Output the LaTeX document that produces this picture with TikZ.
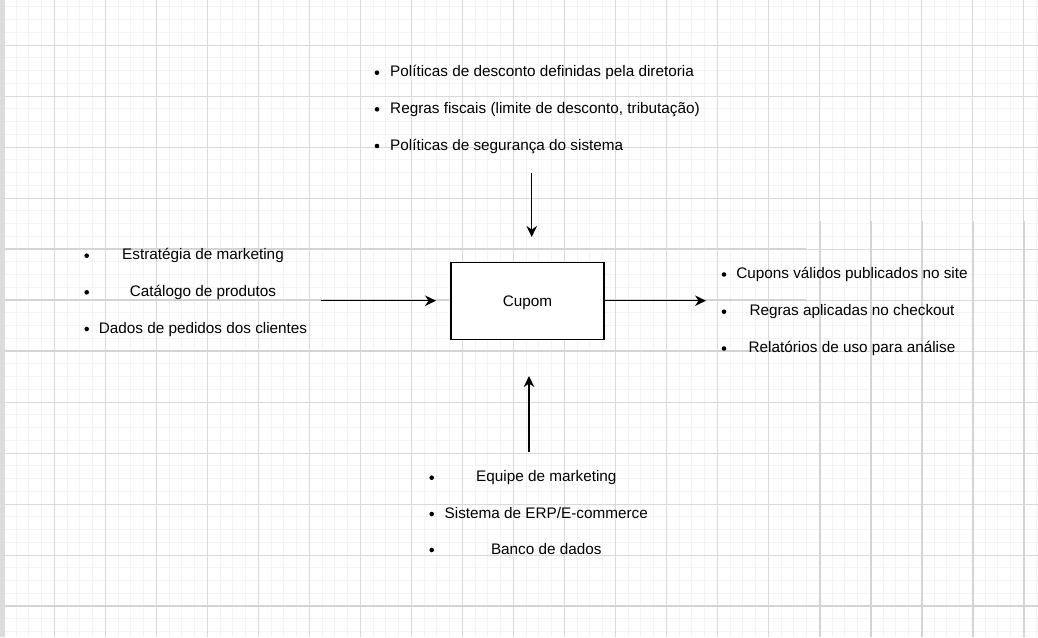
\documentclass[tikz,border=0pt]{standalone}
\usepackage{fontspec}
\setmainfont{Liberation Sans}
\usetikzlibrary{arrows.meta}
\definecolor{minorc}{HTML}{F3F3F3}
\definecolor{majorc}{HTML}{D9D9D9}
\definecolor{thickc}{HTML}{D4D4D4}
\definecolor{stripc}{HTML}{DCDCDC}
\begin{document}
\begin{tikzpicture}[x=1pt,y=-1pt,
  font=\fontsize{15.3}{18}\selectfont,
  bul/.style={circle,fill=black,inner sep=0pt,minimum size=4.6pt},
  txt/.style={inner sep=0pt,text=black},
  boxnode/.style={draw=black,line width=1.2pt,fill=white,minimum width=153pt,minimum height=76.5pt,inner sep=0pt},
  conn/.style={line width=1.3pt,-{Stealth[length=11pt,width=10.5pt,inset=3.5pt]}},
  minorl/.style={draw=minorc,line width=1pt},
  majorl/.style={draw=majorc,line width=1pt},
  thickl/.style={draw=thickc,line width=2pt}]
\fill[white] (0,0) rectangle (1038,637);
\useasboundingbox (0,0) rectangle (1038,637);
% minor grid
\foreach \i in {0,...,81} \draw[minorl] ({3.3+12.75*\i},0) -- ({3.3+12.75*\i},637);
\foreach \i in {0,...,49} \draw[minorl] (5,{6.75+12.75*\i}) -- (1038,{6.75+12.75*\i});
% major grid
\foreach \i in {1,...,20} \draw[majorl] ({3.3+51*\i},0) -- ({3.3+51*\i},637);
\foreach \i in {0,...,11} \draw[majorl] (5,{45+51*\i}) -- (1038,{45+51*\i});
% heavier lines
\foreach \y in {249,300,351} \draw[thickl] (5,\y) -- (806,\y);
\draw[thickl,line width=2.5pt] (5,606) -- (1038,606);
\foreach \i in {16,...,20} \draw[thickl] ({4.3+51*\i},221) -- ({4.3+51*\i},637);
% left strip
\fill[stripc] (0,0) rectangle (4.5,637);
% central box
\node[boxnode] (cupom) at (527.5,301) {};
\node[txt,anchor=base] (cupomlbl) at (527.5,306) {Cupom};
% top list
\node[bul] (tb1) at (377,72.7) {};
\node[bul] (tb2) at (377,109.3) {};
\node[bul] (tb3) at (377,146) {};
\node[txt,anchor=base west] (tt1) at (390,76.7) {Políticas de desconto definidas pela diretoria};
\node[txt,anchor=base west] (tt2) at (390,113.3) {Regras fiscais (limite de desconto, tributação)};
\node[txt,anchor=base west] (tt3) at (390,150) {Políticas de segurança do sistema};
% left list
\node[bul] (lb1) at (86.7,255.7) {};
\node[bul] (lb2) at (86.7,292.3) {};
\node[bul] (lb3) at (86.7,329) {};
\node[txt,anchor=base] (lt1) at (203,259.7) {Estratégia de marketing};
\node[txt,anchor=base] (lt2) at (203,296.3) {Catálogo de produtos};
\node[txt,anchor=base] (lt3) at (203,333) {Dados de pedidos dos clientes};
% right list
\node[bul] (rb1) at (724,274.5) {};
\node[bul] (rb2) at (724,311.7) {};
\node[bul] (rb3) at (724,348.5) {};
\node[txt,anchor=base] (rt1) at (852,278.5) {Cupons válidos publicados no site};
\node[txt,anchor=base] (rt2) at (852,315.7) {Regras aplicadas no checkout};
\node[txt,anchor=base] (rt3) at (852,352.5) {Relatórios de uso para análise};
% bottom list
\node[bul] (bb1) at (431.7,477.7) {};
\node[bul] (bb2) at (431.7,514) {};
\node[bul] (bb3) at (431.7,550) {};
\node[txt,anchor=base] (bt1) at (546.3,481.7) {Equipe de marketing};
\node[txt,anchor=base] (bt2) at (546.3,518) {Sistema de ERP/E-commerce};
\node[txt,anchor=base] (bt3) at (546.3,554) {Banco de dados};
% connector end points
\coordinate (inS) at (321,300.7);
\coordinate (inE) at (436,300.7);
\coordinate (outE) at (706,300.7);
\coordinate (ctlS) at (531.7,173.3);
\coordinate (ctlE) at (531.7,237);
\coordinate (mecS) at (529,451.7);
\coordinate (mecE) at (529,376);
\draw[conn] (inS) -- (inE);
\draw[conn] (cupom.east |- outE) -- (outE);
\draw[conn] (ctlS) -- (ctlE);
\draw[conn] (mecS) -- (mecE);
\end{tikzpicture}
\end{document}
